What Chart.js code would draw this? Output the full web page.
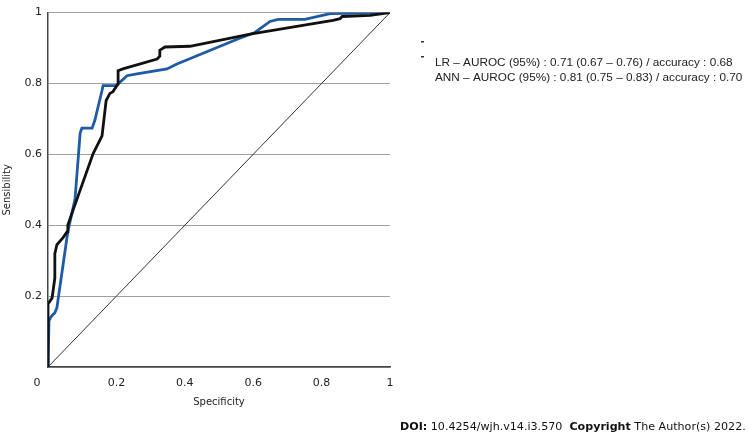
<!DOCTYPE html>
<html>
<head>
<meta charset="utf-8">
<script src="https://cdn.jsdelivr.net/npm/chart.js@4.4.1/dist/chart.umd.min.js"></script>
<style>
html,body{margin:0;padding:0;background:#fff;}
#wrap{width:748px;height:436px;position:relative;}
</style>
</head>
<body>
<div id="wrap"><canvas id="c" width="748" height="436"></canvas></div>
<script>
// ROC curve points (x = Specificity axis value, y = Sensibility)
const lrX = [0,0,0.012,0.020,0.020,0.026,0.044,0.056,0.058,0.132,0.158,0.170,0.181,0.190,0.205,0.205,0.219,0.319,0.327,0.327,0.342,0.415,0.591,0.833,0.854,0.860,0.942,1];
const lrY = [0,0.178,0.195,0.251,0.320,0.345,0.365,0.382,0.401,0.602,0.652,0.752,0.772,0.777,0.799,0.836,0.841,0.869,0.877,0.894,0.903,0.905,0.939,0.978,0.983,0.989,0.992,1];
const annX = [0,0.003,0.009,0.020,0.026,0.058,0.079,0.094,0.099,0.129,0.137,0.158,0.161,0.199,0.205,0.231,0.260,0.348,0.377,0.553,0.605,0.649,0.673,0.751,0.825,1];
const annY = [0,0.131,0.142,0.153,0.167,0.382,0.474,0.660,0.674,0.674,0.696,0.780,0.794,0.794,0.799,0.822,0.827,0.841,0.855,0.925,0.944,0.975,0.981,0.981,0.997,1];
const refX = [0,1];
const refY = [0,1];
const legendLabels = [
  "LR \u2013 AUROC (95%) : 0.71 (0.67 \u2013 0.76) / accuracy : 0.68",
  "ANN \u2013 AUROC (95%) : 0.81 (0.75 \u2013 0.83) / accuracy : 0.70"
];
const xTitle = "Specificity";
const yTitle = "Sensibility";
const tickValues = [0,0.2,0.4,0.6,0.8,1];

const pts = (xs, ys) => xs.map((x,i)=>({x:x, y:ys[i]}));

const textPlugin = {
  id:'texts',
  afterDraw(chart){
    const ctx = chart.ctx;
    const xs = chart.scales.x, ys = chart.scales.y;
    ctx.save();
    // origin "0" label
    ctx.fillStyle = '#222';
    ctx.font = '11px "DejaVu Sans"';
    ctx.textAlign = 'center';
    ctx.textBaseline = 'middle';
    ctx.fillText('0', xs.left - 11, ys.bottom + 16);
    // legend text
    ctx.textAlign = 'left';
    ctx.textBaseline = 'alphabetic';
    let fs = 12;
    ctx.font = fs + 'px "Liberation Sans"';
    const w = ctx.measureText(legendLabels[0]).width;
    fs = fs * 298 / w;
    ctx.font = fs.toFixed(2) + 'px "Liberation Sans"';
    ctx.fillStyle = '#222';
    ctx.fillText(legendLabels[0], 435, 66);
    ctx.fillText(legendLabels[1], 435, 81);
    // tiny legend marks
    ctx.fillStyle = '#333';
    ctx.fillRect(421, 41, 3, 1.5);
    ctx.fillRect(421, 56, 3, 1.5);
    // DOI footer
    const segs = [
      ['DOI:', true], [' 10.4254/wjh.v14.i3.570  ', false], ['Copyright', true], [' The Author(s) 2022.', false]
    ];
    const base = 14;
    let total = 0;
    segs.forEach(s=>{ ctx.font = (s[1]?'bold ':'') + base + 'px "DejaVu Sans"'; total += ctx.measureText(s[0]).width; });
    const k = 346 / total;
    let x = 746 - 346;
    ctx.fillStyle = '#111';
    segs.forEach(s=>{ ctx.font = (s[1]?'bold ':'') + (base*k).toFixed(2) + 'px "DejaVu Sans"'; ctx.fillText(s[0], x, 430); x += ctx.measureText(s[0]).width; });
    ctx.restore();
  }
};

new Chart(document.getElementById('c'), {
  type:'line',
  data:{
    datasets:[
      {label:'LR', data:pts(lrX,lrY), borderColor:'#111111', borderWidth:2.8, pointRadius:0, tension:0, fill:false},
      {label:'ANN', data:pts(annX,annY), borderColor:'#1f5aa6', borderWidth:2.8, pointRadius:0, tension:0, fill:false},
      {label:'ref', data:pts(refX,refY), borderColor:'#333333', borderWidth:1, pointRadius:0, tension:0, fill:false}
    ]
  },
  plugins:[textPlugin],
  options:{
    responsive:false,
    animation:false,
    devicePixelRatio:1,
    layout:{padding:{left:0, right:358, top:8, bottom:24}},
    plugins:{legend:{display:false}, tooltip:{enabled:false}},
    scales:{
      x:{
        type:'linear', min:0, max:1,
        afterBuildTicks: s => { s.ticks = tickValues.map(v=>({value:v})); },
        afterFit: s => { s.height = 45; },
        grid:{display:false, drawTicks:false},
        border:{display:true, color:'#444', width:1.5},
        ticks:{padding:10, color:'#222', font:{family:'DejaVu Sans', size:11}, maxRotation:0,
          callback: v => v===0 ? '' : String(Number(v.toFixed(1)))},
        title:{display:true, text:xTitle, color:'#222', font:{family:'DejaVu Sans', size:10}, padding:{top:0,bottom:4}}
      },
      y:{
        type:'linear', min:0, max:1,
        afterBuildTicks: s => { s.ticks = tickValues.map(v=>({value:v})); },
        afterFit: s => { s.width = 48; },
        grid:{color:'#a0a0a0', lineWidth:1, drawTicks:false},
        border:{display:true, color:'#444', width:1.5},
        ticks:{padding:6, color:'#222', font:{family:'DejaVu Sans', size:11},
          callback: v => v===0 ? '' : String(Number(v.toFixed(1)))},
        title:{display:true, text:yTitle, color:'#222', font:{family:'DejaVu Sans', size:10}, padding:{top:1,bottom:0}}
      }
    }
  }
});
</script>
</body>
</html>
